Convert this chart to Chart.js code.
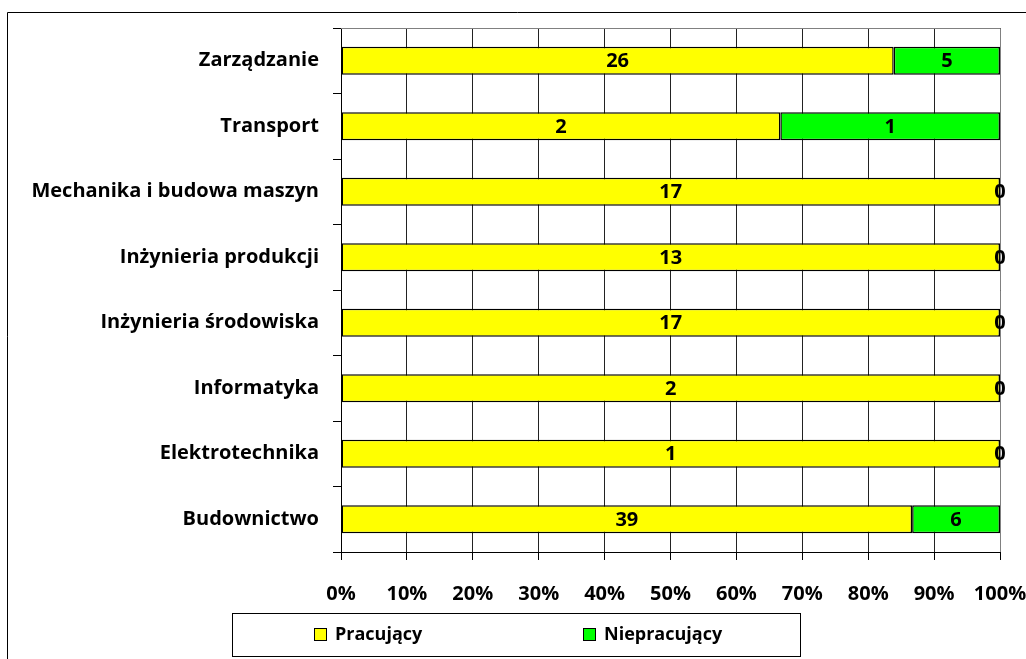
<!DOCTYPE html>
<html>
<head>
<meta charset="utf-8">
<script src="https://cdn.jsdelivr.net/npm/chart.js@4.4.0/dist/chart.umd.min.js"></script>
<style>
  html, body { margin: 0; padding: 0; background: #fff; }
</style>
</head>
<body>
<canvas id="wykres" width="1026" height="659"></canvas>
<script>
// dane
var kierunki = ["Zarządzanie", "Transport", "Mechanika i budowa maszyn", "Inżynieria produkcji", "Inżynieria środowiska", "Informatyka", "Elektrotechnika", "Budownictwo"];
var pracujacy = [26, 2, 17, 13, 17, 2, 1, 39];
var niepracujacy = [5, 1, 0, 0, 0, 0, 0, 6];
var serie = ["Pracujący", "Niepracujący"];
var kolory = ["#ffff00", "#00ff00"];
var czcionka = "'Open Sans'";

// udzial procentowy (wykres 100%)
var liczby = [pracujacy, niepracujacy];
var procenty = liczby.map(function (seria) {
    return seria.map(function (v, i) {
        var suma = pracujacy[i] + niepracujacy[i];
        return suma === 0 ? 0 : v / suma * 100;
    });
});

const dodatki = {
    id: "dodatki",
    beforeDraw(chart) {
        const c = chart.ctx;
        c.save();
        c.strokeStyle = "#000";
        c.lineWidth = 1;
        c.beginPath();
        c.moveTo(7.5, 700);
        c.lineTo(7.5, 12.5);
        c.lineTo(1100, 12.5);
        c.stroke();
        c.restore();
    },
    beforeDatasetsDraw(chart) {
        const a = chart.chartArea;
        const c = chart.ctx;
        c.save();
        c.strokeStyle = "#808080";
        c.lineWidth = 1;
        c.beginPath();
        c.moveTo(a.left, Math.round(a.top) + 0.5);
        c.lineTo(a.right + 0.5, Math.round(a.top) + 0.5);
        c.lineTo(a.right + 0.5, a.bottom);
        c.stroke();
        c.restore();
    },
    afterDatasetsDraw(chart) {
        const c = chart.ctx;
        c.save();
        c.font = "bold 20px " + czcionka;
        c.fillStyle = "#000";
        c.textAlign = "center";
        c.textBaseline = "middle";
        chart.data.datasets.forEach(function (ds, d) {
            chart.getDatasetMeta(d).data.forEach(function (el, i) {
                c.fillText(String(liczby[d][i]), (el.x + el.base) / 2, el.y + 1);
            });
        });
        c.restore();
    },
    afterDraw(chart) {
        const c = chart.ctx;
        c.save();
        c.strokeStyle = "#000";
        c.lineWidth = 1;
        c.strokeRect(232.5, 613.5, 568, 43);
        var pozycje = [314, 583];
        c.font = "bold 18px " + czcionka;
        c.textBaseline = "middle";
        c.textAlign = "left";
        serie.forEach(function (s, i) {
            c.fillStyle = kolory[i];
            c.fillRect(pozycje[i] + 0.5, 628.5, 12, 12);
            c.strokeRect(pozycje[i] + 0.5, 628.5, 12, 12);
            c.fillStyle = "#000";
            c.fillText(s, pozycje[i] + 21, 635);
        });
        c.restore();
    }
};

new Chart(document.getElementById("wykres"), {
    type: "bar",
    data: {
        labels: kierunki,
        datasets: serie.map(function (s, i) {
            return {
                label: s,
                data: procenty[i],
                backgroundColor: kolory[i],
                borderColor: "#000",
                borderWidth: 1.5,
                borderSkipped: false,
                barPercentage: 0.43,
                categoryPercentage: 1
            };
        })
    },
    options: {
        indexAxis: "y",
        responsive: false,
        animation: false,
        layout: { padding: { top: 28, right: 26, left: 0, bottom: 0 } },
        plugins: {
            legend: { display: false },
            tooltip: { enabled: false }
        },
        scales: {
            x: {
                stacked: true,
                min: 0,
                max: 100,
                grid: { color: "#222", lineWidth: 1, tickLength: 8, tickColor: "#000" },
                border: { color: "#000", width: 1 },
                ticks: {
                    stepSize: 10,
                    padding: 22,
                    color: "#000",
                    font: { family: czcionka, size: 20, weight: "bold" },
                    callback: function (v) { return v + "%"; }
                },
                afterFit: function (s) {
                    s.height = 107;
                    s.paddingLeft = 0;
                    s.paddingRight = 0;
                }
            },
            y: {
                stacked: true,
                grid: { drawOnChartArea: false, tickLength: 8, color: "#000", offset: true },
                border: { color: "#000", width: 1 },
                ticks: {
                    padding: 14,
                    color: "#000",
                    font: { family: czcionka, size: 20, weight: "bold" }
                },
                afterFit: function (s) {
                    s.width = 341;
                    s.paddingTop = 0;
                    s.paddingBottom = 0;
                }
            }
        }
    },
    plugins: [dodatki]
});
</script>
</body>
</html>
